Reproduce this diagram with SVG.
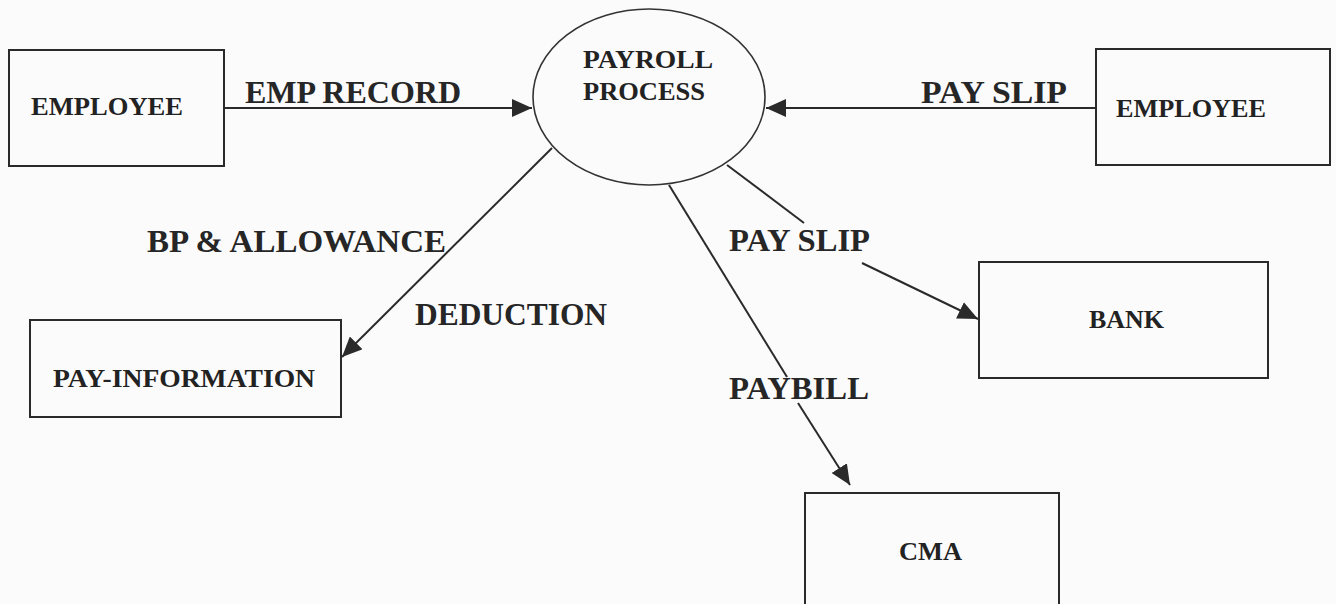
<svg xmlns="http://www.w3.org/2000/svg" width="1336" height="604" viewBox="0 0 1336 604">
  <style>
    .box { fill: none; stroke: #2a2a2a; stroke-width: 2; }
    .bubble { fill: none; stroke: #333333; stroke-width: 1.6; }
    .flow { fill: none; stroke: #2a2a2a; stroke-width: 2; }
    .node-label { font-family: "Liberation Serif", "Times New Roman", serif; font-weight: bold; font-size: 26px; fill: #222222; }
    .flow-label { font-family: "Liberation Serif", "Times New Roman", serif; font-weight: bold; font-size: 31px; fill: #262626; }
  </style>
  <defs>
    <marker id="arrow" markerUnits="userSpaceOnUse" markerWidth="20" markerHeight="18" refX="20" refY="9" orient="auto">
      <path d="M0,0 L20,9 L0,18 Z" fill="#2a2a2a"/>
    </marker>
  </defs>

  <rect width="1336" height="604" fill="#fbfbfb"/>

  <!-- data flows -->
  <g id="connectors">
    <line class="flow" x1="224" y1="108" x2="532" y2="108" marker-end="url(#arrow)"/>
    <line class="flow" x1="1096" y1="108" x2="766" y2="108" marker-end="url(#arrow)"/>
    <line class="flow" x1="552" y1="148" x2="342" y2="357" marker-end="url(#arrow)"/>
    <line class="flow" x1="727" y1="165" x2="804" y2="223"/>
    <line class="flow" x1="862" y1="263" x2="978" y2="319" marker-end="url(#arrow)"/>
    <line class="flow" x1="669" y1="185" x2="787" y2="377"/>
    <line class="flow" x1="798" y1="403" x2="850" y2="485" marker-end="url(#arrow)"/>
  </g>

  <g id="flow-labels">
    <text class="flow-label" x="245" y="103" textLength="216" lengthAdjust="spacingAndGlyphs">EMP RECORD</text>
    <text class="flow-label" x="921" y="103" textLength="146" lengthAdjust="spacingAndGlyphs">PAY SLIP</text>
    <text class="flow-label" x="147" y="252" textLength="299" lengthAdjust="spacingAndGlyphs">BP &amp; ALLOWANCE</text>
    <text class="flow-label" x="415" y="325" textLength="192" lengthAdjust="spacingAndGlyphs">DEDUCTION</text>
    <text class="flow-label" x="729" y="251" textLength="141" lengthAdjust="spacingAndGlyphs">PAY SLIP</text>
    <text class="flow-label" x="729" y="399" textLength="140" lengthAdjust="spacingAndGlyphs">PAYBILL</text>
  </g>

  <g id="employee-source">
    <rect class="box" x="9" y="50" width="215" height="116"/>
    <text class="node-label" x="31" y="115" textLength="152" lengthAdjust="spacingAndGlyphs">EMPLOYEE</text>
  </g>

  <g id="payroll-process">
    <ellipse class="bubble" cx="649" cy="97" rx="116" ry="88"/>
    <text class="node-label" x="583" y="68" textLength="130" lengthAdjust="spacingAndGlyphs">PAYROLL</text>
    <text class="node-label" x="583" y="100" textLength="122" lengthAdjust="spacingAndGlyphs">PROCESS</text>
  </g>

  <g id="employee-sink">
    <rect class="box" x="1096" y="49" width="234" height="116"/>
    <text class="node-label" x="1116" y="117" textLength="150" lengthAdjust="spacingAndGlyphs">EMPLOYEE</text>
  </g>

  <g id="pay-information">
    <rect class="box" x="30" y="320" width="311" height="97"/>
    <text class="node-label" x="53" y="387" textLength="262" lengthAdjust="spacingAndGlyphs">PAY-INFORMATION</text>
  </g>

  <g id="bank">
    <rect class="box" x="979" y="262" width="289" height="116"/>
    <text class="node-label" x="1089" y="328" textLength="75" lengthAdjust="spacingAndGlyphs">BANK</text>
  </g>

  <g id="cma">
    <rect class="box" x="805" y="493" width="254" height="120"/>
    <text class="node-label" x="899" y="560" textLength="63" lengthAdjust="spacingAndGlyphs">CMA</text>
  </g>
</svg>
